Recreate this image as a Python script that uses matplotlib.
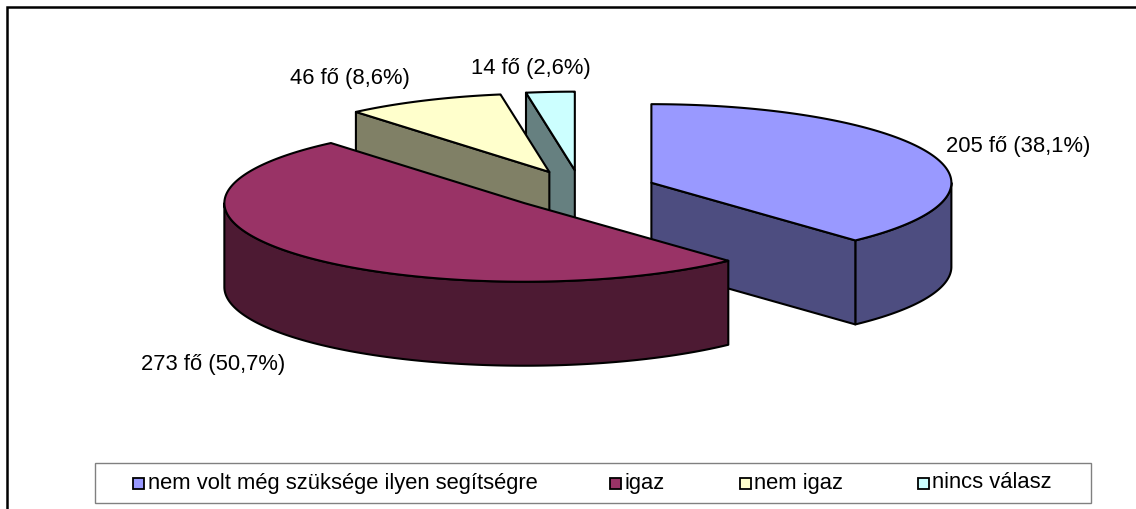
import numpy as np
import matplotlib.pyplot as plt
from matplotlib.patches import Polygon, Rectangle

plt.rcParams['font.family'] = ['Liberation Sans', 'DejaVu Sans']

# Data
categories = ['nem volt még szüksége ilyen segítségre', 'igaz', 'nem igaz', 'nincs válasz']
counts = [205, 273, 46, 14]
top_colors = ['#9999FF', '#993366', '#FFFFCC', '#CCFFFF']
side_colors = ['#4D4D80', '#4D1A33', '#808066', '#668080']

# Layout (pixels)
W, H = 1136, 509
R_PX = 300            # pie radius
CX, CY = 581, 190     # pie centre, from top-left
TILT = 0.262          # vertical squash of the pie
DEPTH = 0.28          # thickness, in radii
EXPLODE = 0.252       # explosion, in radii
LABEL_R = 1.3
label_nudge_px = [(4, 1), (-19, 10), (-36, -1), (-12, 0)]  # +y is down
FS = 15.8

fig = plt.figure(figsize=(W / 100, H / 100), dpi=100)
ax = fig.add_axes([0, 0, 1, 1])
ax.set_xlim(-CX / R_PX, (W - CX) / R_PX)
ax.set_ylim((CY - H) / R_PX, CY / R_PX)
ax.axis('off')

total = sum(counts)
bounds = np.concatenate([[0], np.cumsum(counts)]) / total * 360


def rim(cx, cy, t, dz=0.0):
    t = np.radians(np.atleast_1d(t))
    return np.column_stack([cx + np.sin(t), cy + TILT * np.cos(t) - dz])


edge = dict(edgecolor='black', linewidth=1.5, joinstyle='round')

slices = []
for i in range(len(counts)):
    t0, t1 = bounds[i], bounds[i + 1]
    m = np.radians((t0 + t1) / 2)
    cx = EXPLODE * np.sin(m)
    cy = EXPLODE * TILT * np.cos(m)
    slices.append((cy, i, t0, t1, cx))

# back to front
for cy, i, t0, t1, cx in sorted(slices, reverse=True):
    c_top = np.array([[cx, cy]])
    c_bot = np.array([[cx, cy - DEPTH]])
    # outer curved side (front half only)
    lo, hi = max(t0, 90), min(t1, 270)
    if hi > lo:
        ts = np.linspace(lo, hi, 150)
        pts = np.vstack([rim(cx, cy, ts), rim(cx, cy, ts[::-1], DEPTH)])
        ax.add_patch(Polygon(pts, closed=True, facecolor=side_colors[i], **edge))
    # cut faces
    for t, visible in [(t0, np.sin(np.radians(t0)) < -1e-6),
                       (t1, np.sin(np.radians(t1)) > 1e-6)]:
        if visible:
            pts = np.vstack([c_top, rim(cx, cy, t), rim(cx, cy, t, DEPTH), c_bot])
            ax.add_patch(Polygon(pts, closed=True, facecolor=side_colors[i], **edge))
    # top
    ts = np.linspace(t0, t1, 300)
    pts = np.vstack([c_top, rim(cx, cy, ts)])
    ax.add_patch(Polygon(pts, closed=True, facecolor=top_colors[i], **edge))

    # label
    m = np.radians((t0 + t1) / 2)
    lx = cx + LABEL_R * np.sin(m)
    ly = cy + LABEL_R * TILT * np.cos(m)
    if np.cos(m) < 0:
        ly -= DEPTH
    nx, ny = label_nudge_px[i]
    lx += nx / R_PX
    ly -= ny / R_PX
    pct = f'{counts[i] / total * 100:.1f}'.replace('.', ',')
    ax.text(lx, ly, f'{counts[i]} fő ({pct}%)', ha='center', va='center',
            fontsize=FS, color='black')

# chart area border (runs off the right and bottom edges)
fig.add_artist(Rectangle((7 / W, -0.1), 1.2, 1 - 7 / H + 0.1, transform=fig.transFigure,
                         fill=False, edgecolor='black', linewidth=1.8))

# legend
fig.add_artist(Rectangle((95 / W, 1 - 503 / H), (1091 - 95) / W, 40 / H,
                         transform=fig.transFigure, facecolor='white',
                         edgecolor='#808080', linewidth=1.0))
legend_x = [133, 610, 740, 918]
for x, name, col in zip(legend_x, categories, top_colors):
    fig.add_artist(Rectangle((x / W, 1 - 488.5 / H), 10.5 / W, 10.5 / H,
                             transform=fig.transFigure,
                             facecolor=col, edgecolor='black', linewidth=1.3))
    fig.text((x + 14.5) / W, 1 - 483 / H, name, ha='left', va='center', fontsize=FS)

fig.savefig('out.png', dpi=100)
plt.close(fig)
